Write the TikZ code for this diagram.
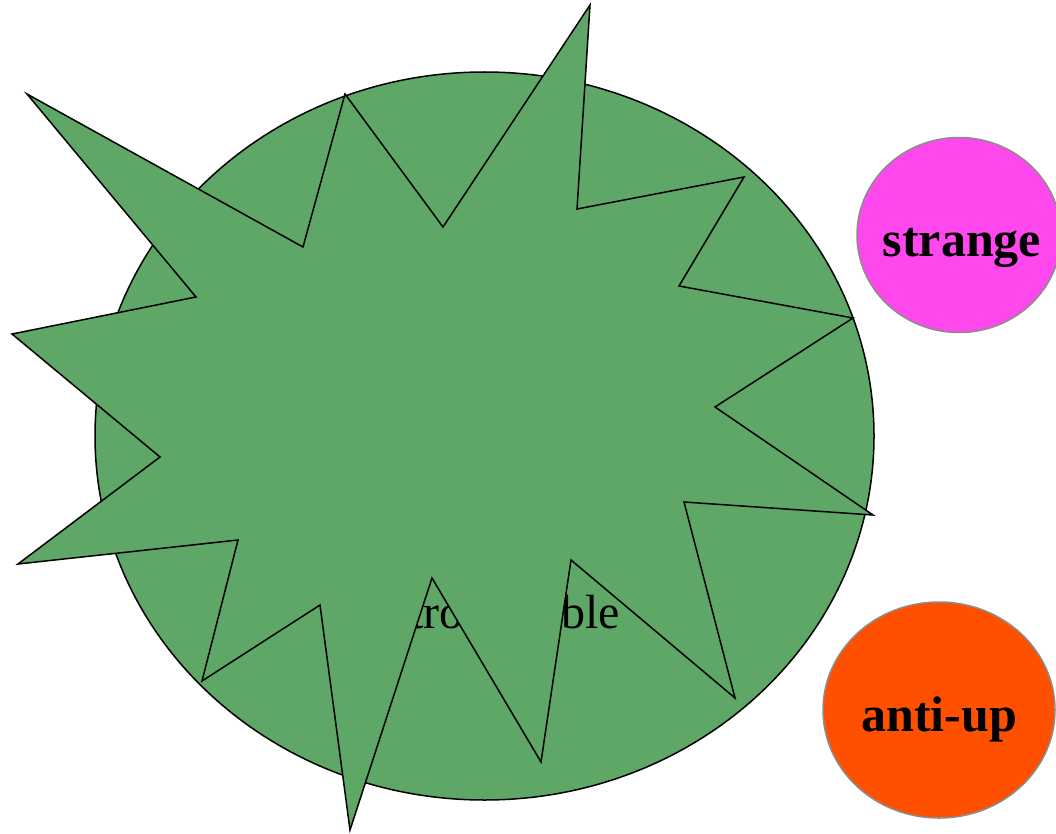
\documentclass[tikz,border=0pt]{standalone}
\usepackage{fontspec}
\setmainfont{Liberation Serif}
\usetikzlibrary{shapes.geometric}
\definecolor{bodygreen}{RGB}{94,167,102}
\definecolor{quarkpink}{RGB}{255,71,238}
\definecolor{quarkorange}{RGB}{255,80,0}
\definecolor{rimgray}{RGB}{140,140,140}
\tikzset{
  bigbody/.style={draw=black, line width=1.5pt, fill=bodygreen},
  burst/.style={draw=black, line width=1.5pt, fill=bodygreen, line join=miter},
  quark/.style={ellipse, draw=rimgray, line width=1.5pt, inner sep=0pt},
  quarktext/.style={inner sep=0pt, anchor=base, font=\fontsize{50}{54}\selectfont\bfseries},
  bodylabel/.style={inner sep=0pt, anchor=base west, font=\fontsize{48}{52}\selectfont}
}
\begin{document}
\begin{tikzpicture}[x=1pt,y=-1pt]
\useasboundingbox (0,0) rectangle (1056,834);
% big circle
\node[bigbody, ellipse, minimum width=779pt, minimum height=728pt, inner sep=0pt] (body) at (484.5,436) {};
% label behind the burst
\node[bodylabel] (bodytxt) at (410,628) {trou\hspace{74pt}ble};
% starburst
\draw[burst] (27,94) -- (303,247) -- (345,94) -- (443,227) -- (590,5) -- (577,209)
  -- (744,177) -- (679,286) -- (853,318) -- (715,407) -- (873,515) -- (684,502)
  -- (735,698) -- (571,560) -- (541,762) -- (432,578) -- (350,830) -- (320,605)
  -- (202,681) -- (238,540) -- (18,564) -- (160,457) -- (12,334) -- (196,297) -- cycle;
% quarks
\node[quark, fill=quarkpink, minimum width=204pt, minimum height=195pt] (strange) at (959,235) {};
\node[quarktext] (strangetxt) at (962,256) {strange};
\node[quark, fill=quarkorange, minimum width=232pt, minimum height=216pt] (antiup) at (939,710) {};
\node[quarktext] (antiuptxt) at (939,731) {anti-up};
\end{tikzpicture}
\end{document}
